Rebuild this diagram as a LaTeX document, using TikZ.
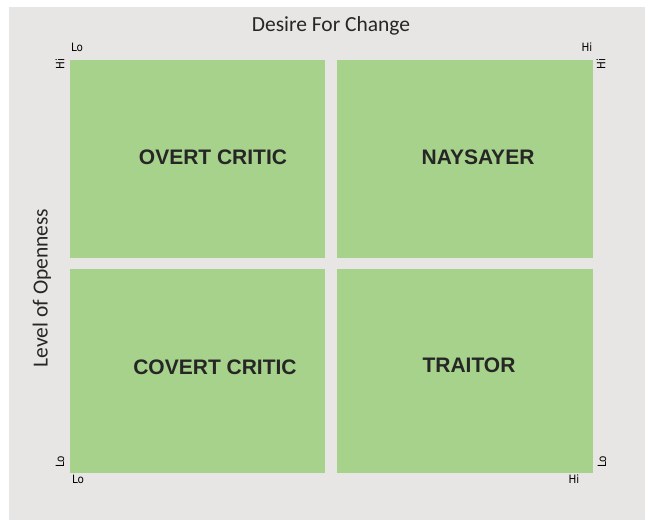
\documentclass[tikz,border=0pt]{standalone}
\usepackage{fontspec}
\setmainfont{Carlito}
\newfontfamily\boldsans{Liberation Sans}
\newfontfamily\ticksans{DejaVu Sans Condensed}
\usetikzlibrary{positioning}
\definecolor{panelGray}{RGB}{232, 230, 228}
\definecolor{quadGreen}{RGB}{166, 210, 139}

\tikzset{
    quad/.style={fill=quadGreen},
    quadlabel/.style={font=\boldsans\bfseries\fontsize{21}{21}\selectfont, text=black!85},
    axislabel/.style={font=\fontsize{21.5}{21.5}\selectfont, text=black!85},
    ticklabel/.style={font=\ticksans\fontsize{11.5}{11.5}\selectfont, inner sep=0pt}
}

\begin{document}
\begin{tikzpicture}[x=1pt, y=-1pt]
        % 枠
        \useasboundingbox (0,0) rectangle (653,520);
        \fill[panelGray] (9,7) rectangle (645,520);

        % 四象限
        \fill[quad] (70,60) rectangle (325,258);
        \fill[quad] (337,60) rectangle (593,258);
        \fill[quad] (70,269) rectangle (325,473);
        \fill[quad] (337,269) rectangle (593,473);

        \node[quadlabel] (overt) at (213,157) {OVERT CRITIC};
        \node[quadlabel] (nay) at (478,157) {NAYSAYER};
        \node[quadlabel] (covert) at (215,367) {COVERT CRITIC};
        \node[quadlabel] (traitor) at (469,365) {TRAITOR};

        % 軸ラベル
        \node[axislabel] (desire) at (331,26) {Desire For Change};
        \node[axislabel, rotate=90] (open) at (42,288) {Level of Openness};

        \node[ticklabel] (loTop) at (77,47) {Lo};
        \node[ticklabel] (hiTop) at (587,47) {Hi};
        \node[ticklabel, rotate=90] (hiLeft) at (60,64) {Hi};
        \node[ticklabel, rotate=90] (hiRight) at (601,64) {Hi};
        \node[ticklabel, rotate=90] (loLeft) at (60,462) {Lo};
        \node[ticklabel, rotate=90] (loRight) at (602,462) {Lo};
        \node[ticklabel] (loBot) at (78,479) {Lo};
        \node[ticklabel] (hiBot) at (574,479) {Hi};
    \end{tikzpicture}
\end{document}
